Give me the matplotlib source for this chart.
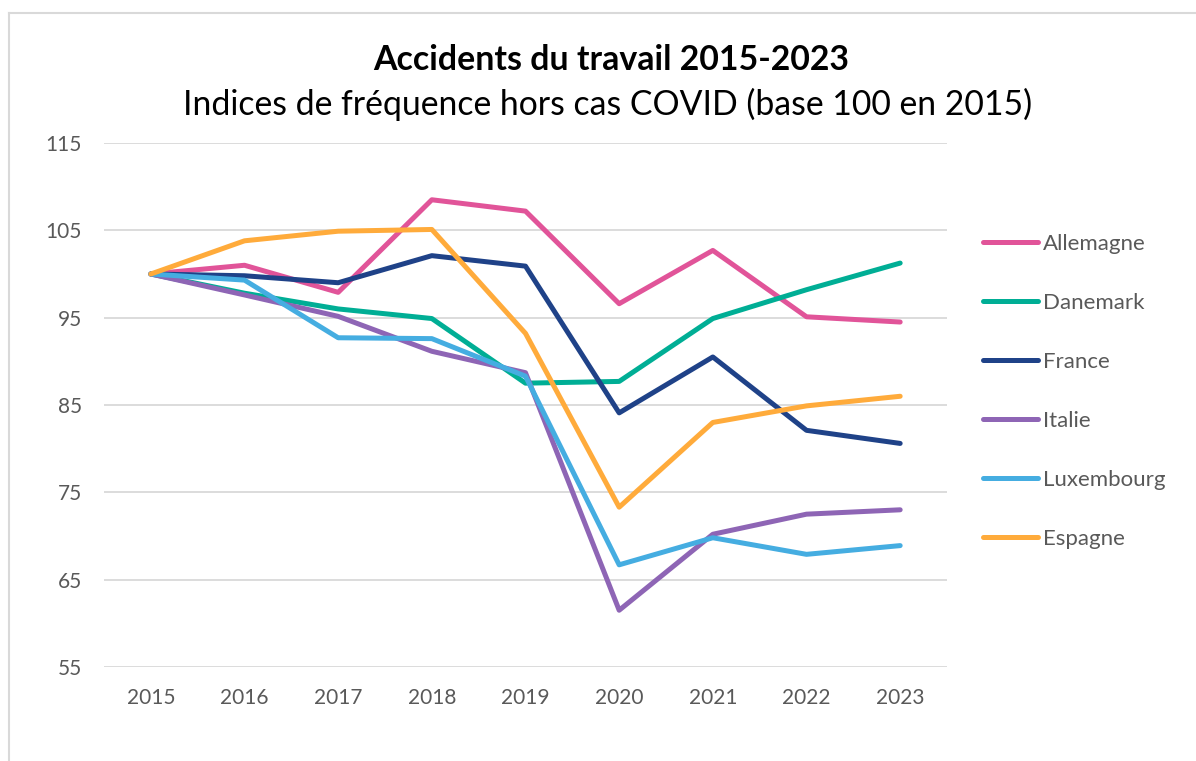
import matplotlib.pyplot as plt
from matplotlib.lines import Line2D

# -------------------------------
# Data (indices, base 100 in 2015)
# -------------------------------
years = [2015, 2016, 2017, 2018, 2019, 2020, 2021, 2022, 2023]
allemagne = [100, 101.0, 97.9, 108.5, 107.2, 96.6, 102.7, 95.1, 94.5]
danemark = [100, 97.8, 96.0, 94.9, 87.5, 87.7, 94.9, 98.2, 101.25]
france = [100, 99.8, 99.0, 102.1, 100.9, 84.1, 90.5, 82.1, 80.6]
italie = [100, 97.6, 95.15, 91.15, 88.7, 61.5, 70.2, 72.5, 73.0]
luxembourg = [100, 99.3, 92.7, 92.6, 88.3, 66.7, 69.8, 67.9, 68.9]
espagne = [100, 103.8, 104.9, 105.1, 93.2, 73.3, 83.0, 84.9, 86.0]

series = [
    ("Allemagne", allemagne, "#E15499"),
    ("Danemark", danemark, "#00AE95"),
    ("France", france, "#1F4288"),
    ("Italie", italie, "#8E65B5"),
    ("Luxembourg", luxembourg, "#45ADE1"),
    ("Espagne", espagne, "#FFAB3B"),
]

plt.rcParams['font.family'] = ['Lato', 'DejaVu Sans']

fig = plt.figure(figsize=(11.96, 7.61), dpi=100)
ax = fig.add_axes([104 / 1196, 1 - 667 / 761, (947 - 104) / 1196, (667 - 143) / 761])

for name, vals, col in series:
    ax.plot(years, vals, color=col, lw=3.6, label=name,
            solid_capstyle='round', solid_joinstyle='round')

ax.set_xlim(2014.5, 2023.5)
ax.set_ylim(55, 115)
ax.set_xticks(years)
ax.set_yticks(range(55, 116, 10))
ax.grid(axis='y', color='#D9D9D9', lw=1.3)
ax.set_axisbelow(True)
for s in ax.spines.values():
    s.set_visible(False)
ax.tick_params(length=0, labelsize=15, colors='#595959')
ax.tick_params(axis='y', pad=16)
ax.tick_params(axis='x', pad=15)

# Titles
fig.text(611 / 1196, 1 - 70 / 761, "Accidents du travail 2015-2023",
         ha='center', va='baseline', fontsize=24.4, fontweight='bold', color='black')
fig.text(608 / 1196, 1 - 115 / 761, "Indices de fréquence hors cas COVID (base 100 en 2015)",
         ha='center', va='baseline', fontsize=24.3, color='black')

# Legend
leg = ax.legend(loc='center left', bbox_to_anchor=(983 / 1196, 1 - 391.5 / 761),
                bbox_transform=fig.transFigure, frameon=False, fontsize=16,
                handlelength=2.48, handletextpad=0.2, labelspacing=1.76,
                borderpad=0, borderaxespad=0)
for t in leg.get_texts():
    t.set_color('#595959')

# Chart area border (light gray)
fig.add_artist(Line2D([9 / 1196, 9 / 1196], [0, 1 - 13 / 761], color='#D9D9D9', lw=1.5,
                      transform=fig.transFigure))
fig.add_artist(Line2D([9 / 1196, 1], [1 - 13 / 761, 1 - 13 / 761], color='#D9D9D9', lw=1.5,
                      transform=fig.transFigure))

fig.savefig("out.png", dpi=100)
